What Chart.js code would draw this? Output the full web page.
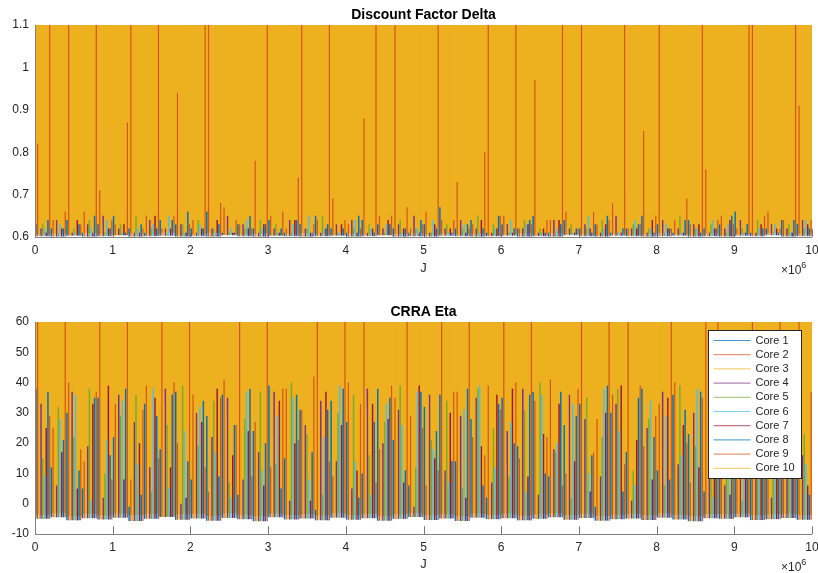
<!DOCTYPE html>
<html>
<head>
<meta charset="utf-8">
<script src="https://cdn.jsdelivr.net/npm/chart.js@4/dist/chart.umd.min.js"></script>
<style>
  html, body { margin: 0; padding: 0; background: #fff; }
  #wrap { position: relative; width: 818px; height: 573px; }
  #deltaChart { position: absolute; left: 0; top: 0; }
  #etaChart { position: absolute; left: 0; top: 290px; }
</style>
</head>
<body>
<div id="wrap">
  <canvas id="deltaChart" width="818" height="290"></canvas>
  <canvas id="etaChart" width="818" height="283"></canvas>
</div>
<script>
// J, in millions: middle of each bin of 2e5 draws (values below are min/max of each core in the bin)
const jMid = [0.1, 0.3, 0.5, 0.7, 0.9, 1.1, 1.3, 1.5, 1.7, 1.9,
  2.1, 2.3, 2.5, 2.7, 2.9, 3.1, 3.3, 3.5, 3.7, 3.9,
  4.1, 4.3, 4.5, 4.7, 4.9, 5.1, 5.3, 5.5, 5.7, 5.9,
  6.1, 6.3, 6.5, 6.7, 6.9, 7.1, 7.3, 7.5, 7.7, 7.9,
  8.1, 8.3, 8.5, 8.7, 8.9, 9.1, 9.3, 9.5, 9.7, 9.9];

const coreNames = ["Core 1", "Core 2", "Core 3", "Core 4", "Core 5",
  "Core 6", "Core 7", "Core 8", "Core 9", "Core 10"];
const coreColors = ["#0072BD", "#D95319", "#EDB120", "#7E2F8E", "#77AC30",
  "#4DBEEE", "#A2142F", "#0072BD", "#D95319", "#EDB120"];

const xTicks = [0, 1, 2, 3, 4, 5, 6, 7, 8, 9, 10];
const deltaTicks = [0.6, 0.7, 0.8, 0.9, 1, 1.1];
const etaTicks = [-10, 0, 10, 20, 30, 40, 50, 60];

// ---- Discount Factor Delta ----
const deltaFloor = [0.602, 0.601, 0.603, 0.601, 0.602, 0.604, 0.601, 0.602, 0.603, 0.601,
  0.602, 0.601, 0.604, 0.602, 0.601, 0.603, 0.602, 0.601, 0.602, 0.603,
  0.601, 0.602, 0.604, 0.601, 0.602, 0.601, 0.603, 0.602, 0.601, 0.602,
  0.603, 0.601, 0.602, 0.601, 0.604, 0.602, 0.601, 0.603, 0.602, 0.601,
  0.602, 0.603, 0.601, 0.602, 0.601, 0.603, 0.602, 0.604, 0.601, 0.602];
const deltaCore1 = [0.63, 0.62, 0.64, 0.61, 0.63, 0.65, 0.62, 0.61, 0.64, 0.63,
  0.62, 0.66, 0.61, 0.63, 0.62, 0.64, 0.61, 0.63, 0.65, 0.62,
  0.61, 0.64, 0.63, 0.62, 0.61, 0.63, 0.67, 0.62, 0.64, 0.61,
  0.63, 0.62, 0.65, 0.61, 0.64, 0.62, 0.63, 0.61, 0.62, 0.65,
  0.63, 0.61, 0.64, 0.62, 0.63, 0.66, 0.61, 0.62, 0.64, 0.63];
const deltaCore2 = [0.82, 0.64, 1.1, 0.66, 0.71, 0.63, 1.1, 0.65, 0.62, 0.94,
  0.64, 1.1, 0.67, 0.63, 0.78, 0.65, 0.62, 1.1, 0.64, 0.69,
  0.63, 0.88, 0.65, 1.1, 0.62, 0.66, 0.64, 0.73, 0.63, 1.1,
  0.65, 0.62, 0.97, 0.64, 0.66, 1.1, 0.63, 0.68, 0.62, 0.85,
  1.1, 0.64, 0.63, 0.76, 0.65, 0.62, 1.1, 0.66, 0.64, 0.91];
const deltaCore3 = [0.66, 0.7, 0.64, 0.68, 0.63, 0.72, 0.65, 0.67, 0.69, 0.64,
  0.71, 0.63, 0.66, 0.68, 0.65, 0.7, 0.64, 0.67, 0.63, 0.69,
  0.66, 0.64, 0.71, 0.65, 0.68, 0.63, 0.67, 0.7, 0.64, 0.66,
  0.69, 0.65, 0.63, 0.68, 0.72, 0.64, 0.66, 0.67, 0.7, 0.63,
  0.65, 0.68, 0.66, 0.64, 0.71, 0.67, 0.63, 0.69, 0.65, 0.68];
const deltaCore4 = [0.62, 0.64, 0.61, 0.63, 0.65, 0.62, 0.61, 0.64, 0.62, 0.63,
  0.61, 0.62, 0.65, 0.63, 0.61, 0.62, 0.64, 0.62, 0.61, 0.63,
  0.64, 0.61, 0.62, 0.63, 0.65, 0.61, 0.62, 0.64, 0.62, 0.61,
  0.63, 0.62, 0.61, 0.64, 0.62, 0.63, 0.61, 0.65, 0.62, 0.61,
  0.64, 0.62, 0.63, 0.61, 0.62, 0.64, 0.61, 0.63, 0.62, 0.64];
const deltaCore5 = [0.63, 0.61, 0.62, 0.64, 0.61, 0.63, 0.65, 0.62, 0.61, 0.63,
  0.64, 0.62, 0.61, 0.62, 0.64, 0.63, 0.61, 0.62, 0.65, 0.61,
  0.62, 0.63, 0.61, 0.64, 0.62, 0.61, 0.63, 0.62, 0.65, 0.63,
  0.61, 0.64, 0.62, 0.61, 0.63, 0.62, 0.64, 0.61, 0.63, 0.62,
  0.61, 0.65, 0.62, 0.63, 0.61, 0.62, 0.64, 0.61, 0.63, 0.62];
const deltaCore6 = [0.62, 0.63, 0.61, 0.62, 0.64, 0.61, 0.62, 0.63, 0.65, 0.61,
  0.63, 0.61, 0.62, 0.64, 0.62, 0.61, 0.63, 0.65, 0.62, 0.61,
  0.64, 0.62, 0.63, 0.61, 0.62, 0.64, 0.61, 0.63, 0.61, 0.62,
  0.64, 0.63, 0.61, 0.62, 0.61, 0.65, 0.62, 0.61, 0.64, 0.62,
  0.63, 0.61, 0.62, 0.64, 0.63, 0.61, 0.62, 0.63, 0.61, 0.64];
const deltaCore7 = [0.61, 0.62, 0.64, 0.61, 0.62, 0.63, 0.61, 0.65, 0.62, 0.61,
  0.62, 0.64, 0.61, 0.62, 0.63, 0.61, 0.64, 0.61, 0.62, 0.63,
  0.61, 0.62, 0.64, 0.62, 0.61, 0.63, 0.62, 0.61, 0.64, 0.62,
  0.61, 0.63, 0.62, 0.64, 0.61, 0.62, 0.63, 0.61, 0.62, 0.64,
  0.62, 0.61, 0.63, 0.62, 0.64, 0.61, 0.63, 0.62, 0.61, 0.63];
const deltaCore8 = [0.64, 0.62, 0.63, 0.65, 0.62, 0.61, 0.63, 0.62, 0.64, 0.66,
  0.62, 0.63, 0.61, 0.65, 0.63, 0.62, 0.64, 0.61, 0.63, 0.62,
  0.65, 0.61, 0.63, 0.62, 0.64, 0.62, 0.61, 0.63, 0.62, 0.65,
  0.62, 0.64, 0.61, 0.63, 0.62, 0.61, 0.65, 0.62, 0.63, 0.61,
  0.62, 0.64, 0.61, 0.62, 0.65, 0.63, 0.62, 0.61, 0.64, 0.62];
const deltaCore9 = [1.1, 0.66, 0.63, 1.1, 0.64, 0.87, 0.62, 1.1, 0.65, 0.63,
  1.1, 0.68, 0.64, 0.62, 1.1, 0.66, 0.74, 0.63, 1.1, 0.64,
  0.62, 1.1, 0.65, 0.67, 0.63, 1.1, 0.64, 0.62, 0.8, 0.65,
  1.1, 0.63, 0.64, 1.1, 0.62, 0.66, 0.64, 1.1, 0.63, 0.65,
  0.62, 0.69, 1.1, 0.64, 0.63, 1.1, 0.65, 0.62, 1.1, 0.64];
const deltaCore10Lo = [0.607, 0.609, 0.606, 0.61, 0.608, 0.605, 0.609, 0.607, 0.611, 0.606,
  0.608, 0.61, 0.606, 0.607, 0.609, 0.605, 0.608, 0.61, 0.607, 0.606,
  0.609, 0.607, 0.605, 0.608, 0.61, 0.606, 0.609, 0.607, 0.608, 0.605,
  0.607, 0.609, 0.606, 0.61, 0.608, 0.607, 0.605, 0.609, 0.606, 0.608,
  0.61, 0.607, 0.606, 0.609, 0.605, 0.608, 0.607, 0.61, 0.606, 0.608];
const deltaCore10Hi = [1.1, 1.1, 1.1, 1.1, 1.1, 1.1, 1.1, 1.1, 1.1, 1.1,
  1.1, 1.1, 1.1, 1.1, 1.1, 1.1, 1.1, 1.1, 1.1, 1.1,
  1.1, 1.1, 1.1, 1.1, 1.1, 1.1, 1.1, 1.1, 1.1, 1.1,
  1.1, 1.1, 1.1, 1.1, 1.1, 1.1, 1.1, 1.1, 1.1, 1.1,
  1.1, 1.1, 1.1, 1.1, 1.1, 1.1, 1.1, 1.1, 1.1, 1.1];

// ---- CRRA Eta ----
const etaFloor = [-5, -4.5, -5.5, -4.8, -5.2, -4.6, -5.7, -5, -4.4, -5.3,
  -4.9, -5.6, -4.7, -5.1, -5.8, -4.5, -5.2, -4.9, -5.5, -4.6,
  -5.3, -4.8, -5.6, -5, -4.4, -5.4, -4.9, -5.7, -4.6, -5.1,
  -4.8, -5.5, -5, -4.5, -5.3, -4.7, -5.6, -5.1, -4.9, -5.4,
  -4.6, -5.2, -5.8, -4.8, -5, -4.5, -5.4, -5.1, -4.7, -5.3];
const etaCore1 = [38, 12, 30, 5, 35, 22, -1, 33, 18, 37,
  8, 29, 36, 3, 24, 39, 15, 31, -2, 34,
  27, 10, 38, 21, 6, 32, 36, 14, 28, 2,
  35, 19, 37, 9, 26, 33, -1, 30, 17, 38,
  11, 36, 23, 4, 34, 29, 13, 37, 20, 32];
const etaCore2 = [60, 25, 40, 14, 60, 33, 8, 39, 60, 20,
  36, 4, 41, 60, 27, 12, 38, 31, 60, 9,
  40, 60, 18, 35, 29, 6, 60, 37, 22, 39,
  60, 15, 34, 41, 10, 60, 28, 36, 60, 19,
  33, 40, 7, 60, 24, 38, 60, 16, 35, 60];
const etaCore3 = [20, 37, 9, 41, 28, 15, 39, 3, 33, 25,
  40, 18, 30, 11, 42, 22, 6, 36, 27, 14,
  38, 31, 2, 40, 17, 35, 24, 10, 41, 29,
  13, 38, 26, 5, 39, 21, 36, 12, 30, 41,
  18, 4, 37, 28, 15, 40, 23, 33, 8, 39];
const etaCore4 = [33, 6, 37, 19, 2, 36, 27, 12, 38, 0,
  30, 22, 35, 8, 17, 37, 1, 26, 34, 14,
  5, 38, 20, 31, -1, 36, 11, 29, 35, 7,
  24, 38, 3, 18, 36, 28, 9, 33, 1, 25,
  37, 13, 30, 21, 6, 35, 27, 2, 38, 16];
const etaCore5 = [15, 32, 22, 38, 10, 29, 36, 4, 26, 39,
  19, 34, 7, 28, 37, 13, 40, 23, 3, 30,
  36, 16, 27, 39, 12, 21, 34, 5, 38, 25,
  9, 31, 40, 17, 2, 35, 22, 38, 11, 28,
  6, 39, 19, 33, 26, 1, 37, 14, 30, 23];
const etaCore6 = [9, 28, 36, 1, 21, 34, 13, 38, 5, 24,
  32, 17, 2, 37, 11, 29, 35, 8, 22, 39,
  14, 3, 33, 26, 37, 18, 7, 31, 39, 12,
  27, 4, 36, 20, 33, 10, 38, 24, 6, 34,
  29, 16, 38, 2, 21, 36, 9, 30, 34, 13];
const etaCore7 = [25, 17, 5, 33, 39, 8, 20, 35, 12, 2,
  27, 38, 16, 24, 6, 34, 20, 1, 37, 26,
  11, 33, 28, 7, 39, 15, 30, 2, 19, 36,
  38, 9, 23, 33, 14, 4, 30, 39, 21, 8,
  35, 26, 12, 38, 3, 29, 18, 36, 25, 6];
const etaCore8 = [37, 21, 11, 35, 16, 38, 3, 29, 36, 14,
  34, 9, 26, 38, 20, 5, 36, 17, 31, 38,
  2, 27, 35, 11, 37, 24, 14, 38, 6, 33,
  20, 36, 10, 37, 29, 16, 39, 4, 35, 22,
  8, 31, 37, 18, 39, 12, 34, 26, 38, 3];
const etaCore9 = [29, 60, 18, 37, 8, 60, 31, 15, 40, 60,
  12, 35, 26, 9, 60, 38, 21, 42, 14, 60,
  33, 7, 39, 60, 25, 11, 37, 60, 16, 31,
  40, 60, 22, 6, 38, 17, 60, 13, 39, 29,
  60, 20, 35, 60, 10, 26, 39, 60, 21, 37];
const etaCore10Lo = [-3.5, -3, -4, -3.2, -3.8, -3.1, -3.6, -3.3, -4, -3.4,
  -3.2, -3.9, -3, -3.5, -4, -3.1, -3.6, -3.3, -3.8, -3,
  -3.6, -3.2, -3.9, -3.4, -3, -3.7, -3.3, -4, -3.1, -3.5,
  -3.2, -3.8, -3.4, -3, -3.6, -3.1, -3.9, -3.5, -3.2, -3.7,
  -3, -3.5, -4, -3.3, -3.4, -3.1, -3.7, -3.4, -3.2, -3.6];
const etaCore10Hi = [60, 60, 60, 60, 60, 60, 60, 60, 60, 60,
  60, 60, 60, 60, 60, 60, 60, 60, 60, 60,
  60, 60, 60, 60, 60, 60, 60, 60, 60, 60,
  60, 60, 60, 60, 60, 60, 60, 60, 60, 60,
  60, 60, 60, 60, 60, 60, 60, 60, 60, 60];

const deltaCores = [deltaCore1, deltaCore2, deltaCore3, deltaCore4, deltaCore5,
  deltaCore6, deltaCore7, deltaCore8, deltaCore9];
const etaCores = [etaCore1, etaCore2, etaCore3, etaCore4, etaCore5,
  etaCore6, etaCore7, etaCore8, etaCore9];

const FONT = '"Liberation Sans", Arial, Helvetica, sans-serif';

// each core is drawn as thin floating bars (bin min..max); core 10 is the wide band underneath
function buildDatasets(cores, floor, lo10, hi10) {
  const sets = cores.map((vals, k) => ({
    label: coreNames[k],
    data: jMid.map((j, i) => ({ x: j, y: [floor[i], vals[i]] })),
    backgroundColor: coreColors[k],
    borderWidth: 0,
    grouped: true,
    categoryPercentage: 1,
    barPercentage: (k === 1 || k === 8) ? 0.7 : 0.85
  }));
  sets.push({
    label: coreNames[9],
    data: jMid.map((j, i) => ({ x: j, y: [lo10[i], hi10[i]] })),
    backgroundColor: coreColors[9],
    borderWidth: 0,
    grouped: false,
    categoryPercentage: 1,
    barPercentage: 1
  });
  return sets;
}

const matlabLook = {
  id: "matlabLook",
  beforeDatasetsDraw(chart) {
    const { ctx, chartArea: a, scales: { x, y } } = chart;
    ctx.save();
    ctx.strokeStyle = "#777";
    ctx.lineWidth = 1;
    ctx.beginPath();
    x.ticks.forEach(t => {
      const px = Math.round(x.getPixelForValue(t.value)) + 0.5;
      ctx.moveTo(px, a.bottom);
      ctx.lineTo(px, a.bottom - 7.8);
    });
    y.ticks.forEach(t => {
      const py = Math.round(y.getPixelForValue(t.value)) + 0.5;
      ctx.moveTo(a.left, py);
      ctx.lineTo(a.left + 7.8, py);
    });
    ctx.stroke();
    ctx.restore();
  },
  afterDraw(chart, args, opts) {
    const { ctx, chartArea: a } = chart;
    ctx.save();
    // axis lines
    ctx.strokeStyle = "#808080";
    ctx.lineWidth = 1;
    ctx.beginPath();
    ctx.moveTo(a.left + 0.5, a.top);
    ctx.lineTo(a.left + 0.5, a.bottom + 0.5);
    ctx.lineTo(a.right, a.bottom + 0.5);
    ctx.stroke();

    const cx = (a.left + a.right) / 2;
    ctx.fillStyle = "#000";
    ctx.textAlign = "center";
    ctx.textBaseline = "alphabetic";
    ctx.font = "bold 14px " + FONT;
    ctx.fillText(opts.title, cx, a.top - 6);

    ctx.fillStyle = "#262626";
    ctx.font = "13px " + FONT;
    ctx.textBaseline = "middle";
    ctx.fillText("J", cx, a.bottom + opts.jOffset);

    // x10^6 exponent label
    ctx.textAlign = "left";
    ctx.textBaseline = "alphabetic";
    ctx.font = "12px " + FONT;
    const ex = 781, ey = a.bottom + 37;
    ctx.fillText("\u00d710", ex, ey);
    const w = ctx.measureText("\u00d710").width;
    ctx.font = "9px " + FONT;
    ctx.fillText("6", ex + w, ey - 6);

    if (opts.legend) {
      const bw = 93, bh = 148;
      const bx = Math.round(a.right - 11 - bw) + 0.5;
      const by = Math.round(a.top + 8) + 0.5;
      ctx.fillStyle = "#fff";
      ctx.fillRect(bx, by, bw, bh);
      ctx.strokeStyle = "#262626";
      ctx.lineWidth = 1;
      ctx.strokeRect(bx, by, bw, bh);
      ctx.font = "11px " + FONT;
      ctx.textBaseline = "middle";
      chart.data.datasets.forEach((ds, i) => {
        const ry = by + 10 + i * 14.2;
        ctx.globalAlpha = 0.75;
        ctx.strokeStyle = ds.backgroundColor;
        ctx.beginPath();
        ctx.moveTo(bx + 5, ry);
        ctx.lineTo(bx + 42, ry);
        ctx.stroke();
        ctx.globalAlpha = 1;
        ctx.fillStyle = "#262626";
        ctx.fillText(ds.label, bx + 47, ry);
      });
    }
    ctx.restore();
  }
};

function makeOptions(yTicks, padTop, xHeight, decor) {
  return {
    responsive: false,
    animation: false,
    devicePixelRatio: 1,
    layout: { padding: { top: padTop, right: 6, bottom: 0, left: 0 } },
    plugins: {
      legend: { display: false },
      tooltip: { enabled: false },
      matlabLook: decor
    },
    scales: {
      x: {
        type: "linear",
        min: 0,
        max: 10,
        offset: false,
        grid: { display: false, drawTicks: false },
        border: { display: false },
        afterBuildTicks: s => { s.ticks = xTicks.map(v => ({ value: v })); },
        ticks: { padding: 6, color: "#262626", font: { size: 12, family: FONT }, maxRotation: 0, autoSkip: false },
        afterFit: s => { s.height = xHeight; s.paddingLeft = 0; s.paddingRight = 0; }
      },
      y: {
        min: yTicks[0],
        max: yTicks[yTicks.length - 1],
        grid: { display: false, drawTicks: false },
        border: { display: false },
        afterBuildTicks: s => { s.ticks = yTicks.map(v => ({ value: v })); },
        ticks: {
          padding: 6, color: "#262626", font: { size: 12, family: FONT },
          callback: v => String(Math.round(v * 10) / 10)
        },
        afterFit: s => { s.width = 35; s.paddingTop = 0; s.paddingBottom = 0; }
      }
    }
  };
}

const deltaConfig = {
  type: "bar",
  data: { datasets: buildDatasets(deltaCores, deltaFloor, deltaCore10Lo, deltaCore10Hi) },
  options: makeOptions(deltaTicks, 25, 53,
    { title: "Discount Factor Delta", jOffset: 31, legend: false }),
  plugins: [matlabLook]
};

const etaConfig = {
  type: "bar",
  data: { datasets: buildDatasets(etaCores, etaFloor, etaCore10Lo, etaCore10Hi) },
  options: makeOptions(etaTicks, 32, 39,
    { title: "CRRA Eta", jOffset: 30, legend: true }),
  plugins: [matlabLook]
};

let deltaChart = new Chart(document.getElementById("deltaChart"), deltaConfig);
let etaChart = new Chart(document.getElementById("etaChart"), etaConfig);
</script>
</body>
</html>
